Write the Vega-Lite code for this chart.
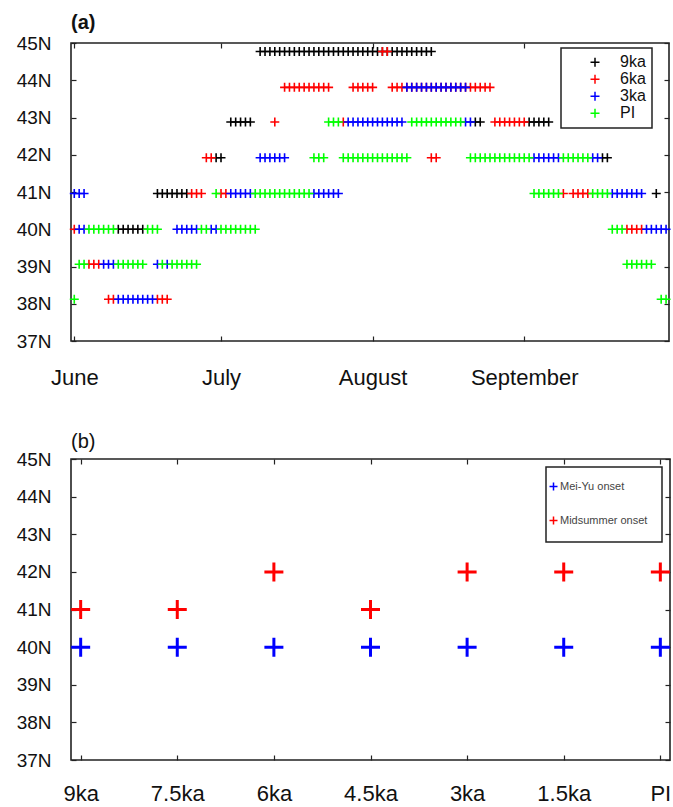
{
  "$schema": "https://vega.github.io/schema/vega-lite/v6.json",
  "background": "white",
  "padding": {"left": 15, "top": 12, "right": 4, "bottom": 4},
  "bounds": "flush",
  "spacing": 118,
  "config": {
    "font": "Liberation Sans",
    "view": {"stroke": "#222", "strokeWidth": 1.6},
    "legend": {"strokeWidth": 1.5},
    "axis": {
      "labelFont": "Liberation Sans",
      "labelFontSize": 19,
      "labelColor": "#111",
      "domain": false,
      "grid": false,
      "tickColor": "#222",
      "tickSize": -5,
      "tickWidth": 1.2,
      "labelOverlap": false,
      "labelFlush": false
    }
  },
  "datasets": {
    "belt": [
      {"day":39,"lat":44.77,"run":"9ka"},{"day":40,"lat":44.77,"run":"9ka"},{"day":41,"lat":44.77,"run":"9ka"},{"day":42,"lat":44.77,"run":"9ka"},{"day":43,"lat":44.77,"run":"9ka"},{"day":44,"lat":44.77,"run":"9ka"},
      {"day":45,"lat":44.77,"run":"9ka"},{"day":46,"lat":44.77,"run":"9ka"},{"day":47,"lat":44.77,"run":"9ka"},{"day":48,"lat":44.77,"run":"9ka"},{"day":49,"lat":44.77,"run":"9ka"},{"day":50,"lat":44.77,"run":"9ka"},
      {"day":51,"lat":44.77,"run":"9ka"},{"day":52,"lat":44.77,"run":"9ka"},{"day":53,"lat":44.77,"run":"9ka"},{"day":54,"lat":44.77,"run":"9ka"},{"day":55,"lat":44.77,"run":"9ka"},{"day":56,"lat":44.77,"run":"9ka"},
      {"day":57,"lat":44.77,"run":"9ka"},{"day":58,"lat":44.77,"run":"9ka"},{"day":59,"lat":44.77,"run":"9ka"},{"day":60,"lat":44.77,"run":"9ka"},{"day":61,"lat":44.77,"run":"9ka"},{"day":62,"lat":44.77,"run":"9ka"},
      {"day":63,"lat":44.77,"run":"9ka"},{"day":64,"lat":44.77,"run":"9ka"},{"day":65,"lat":44.77,"run":"9ka"},{"day":66,"lat":44.77,"run":"9ka"},{"day":67,"lat":44.77,"run":"9ka"},{"day":68,"lat":44.77,"run":"9ka"},
      {"day":69,"lat":44.77,"run":"9ka"},{"day":70,"lat":44.77,"run":"9ka"},{"day":71,"lat":44.77,"run":"9ka"},{"day":72,"lat":44.77,"run":"9ka"},{"day":73,"lat":44.77,"run":"9ka"},{"day":74,"lat":44.77,"run":"9ka"},
      {"day":33,"lat":42.88,"run":"9ka"},{"day":34,"lat":42.88,"run":"9ka"},{"day":35,"lat":42.88,"run":"9ka"},{"day":36,"lat":42.88,"run":"9ka"},{"day":37,"lat":42.88,"run":"9ka"},
      {"day":83,"lat":42.88,"run":"9ka"},{"day":84,"lat":42.88,"run":"9ka"},
      {"day":94,"lat":42.88,"run":"9ka"},{"day":95,"lat":42.88,"run":"9ka"},{"day":96,"lat":42.88,"run":"9ka"},{"day":97,"lat":42.88,"run":"9ka"},{"day":98,"lat":42.88,"run":"9ka"},
      {"day":30,"lat":41.92,"run":"9ka"},{"day":31,"lat":41.92,"run":"9ka"},{"day":109,"lat":41.92,"run":"9ka"},{"day":110,"lat":41.92,"run":"9ka"},
      {"day":18,"lat":40.96,"run":"9ka"},{"day":19,"lat":40.96,"run":"9ka"},{"day":20,"lat":40.96,"run":"9ka"},{"day":21,"lat":40.96,"run":"9ka"},{"day":22,"lat":40.96,"run":"9ka"},{"day":23,"lat":40.96,"run":"9ka"},{"day":24,"lat":40.96,"run":"9ka"},
      {"day":120,"lat":40.96,"run":"9ka"},
      {"day":10,"lat":40.0,"run":"9ka"},{"day":11,"lat":40.0,"run":"9ka"},{"day":12,"lat":40.0,"run":"9ka"},{"day":13,"lat":40.0,"run":"9ka"},{"day":14,"lat":40.0,"run":"9ka"},{"day":15,"lat":40.0,"run":"9ka"},

      {"day":64,"lat":44.77,"run":"6ka"},{"day":65,"lat":44.77,"run":"6ka"},
      {"day":44,"lat":43.81,"run":"6ka"},{"day":45,"lat":43.81,"run":"6ka"},{"day":46,"lat":43.81,"run":"6ka"},{"day":47,"lat":43.81,"run":"6ka"},{"day":48,"lat":43.81,"run":"6ka"},
      {"day":49,"lat":43.81,"run":"6ka"},{"day":50,"lat":43.81,"run":"6ka"},{"day":51,"lat":43.81,"run":"6ka"},{"day":52,"lat":43.81,"run":"6ka"},{"day":53,"lat":43.81,"run":"6ka"},
      {"day":58,"lat":43.81,"run":"6ka"},{"day":59,"lat":43.81,"run":"6ka"},{"day":60,"lat":43.81,"run":"6ka"},{"day":61,"lat":43.81,"run":"6ka"},{"day":62,"lat":43.81,"run":"6ka"},
      {"day":66,"lat":43.81,"run":"6ka"},{"day":67,"lat":43.81,"run":"6ka"},{"day":68,"lat":43.81,"run":"6ka"},{"day":69,"lat":43.81,"run":"6ka"},{"day":70,"lat":43.81,"run":"6ka"},
      {"day":71,"lat":43.81,"run":"6ka"},{"day":72,"lat":43.81,"run":"6ka"},{"day":73,"lat":43.81,"run":"6ka"},{"day":74,"lat":43.81,"run":"6ka"},{"day":75,"lat":43.81,"run":"6ka"},
      {"day":76,"lat":43.81,"run":"6ka"},{"day":77,"lat":43.81,"run":"6ka"},{"day":78,"lat":43.81,"run":"6ka"},{"day":79,"lat":43.81,"run":"6ka"},{"day":80,"lat":43.81,"run":"6ka"},
      {"day":81,"lat":43.81,"run":"6ka"},{"day":82,"lat":43.81,"run":"6ka"},{"day":83,"lat":43.81,"run":"6ka"},{"day":84,"lat":43.81,"run":"6ka"},{"day":85,"lat":43.81,"run":"6ka"},{"day":86,"lat":43.81,"run":"6ka"},
      {"day":42,"lat":42.88,"run":"6ka"},{"day":56,"lat":42.88,"run":"6ka"},
      {"day":87,"lat":42.88,"run":"6ka"},{"day":88,"lat":42.88,"run":"6ka"},{"day":89,"lat":42.88,"run":"6ka"},{"day":90,"lat":42.88,"run":"6ka"},{"day":91,"lat":42.88,"run":"6ka"},{"day":92,"lat":42.88,"run":"6ka"},{"day":93,"lat":42.88,"run":"6ka"},
      {"day":28,"lat":41.92,"run":"6ka"},{"day":29,"lat":41.92,"run":"6ka"},{"day":74,"lat":41.92,"run":"6ka"},{"day":75,"lat":41.92,"run":"6ka"},
      {"day":25,"lat":40.96,"run":"6ka"},{"day":26,"lat":40.96,"run":"6ka"},{"day":27,"lat":40.96,"run":"6ka"},{"day":31,"lat":40.96,"run":"6ka"},{"day":32,"lat":40.96,"run":"6ka"},
      {"day":101,"lat":40.96,"run":"6ka"},{"day":103,"lat":40.96,"run":"6ka"},{"day":104,"lat":40.96,"run":"6ka"},{"day":105,"lat":40.96,"run":"6ka"},{"day":106,"lat":40.96,"run":"6ka"},
      {"day":1,"lat":40.0,"run":"6ka"},{"day":114,"lat":40.0,"run":"6ka"},{"day":115,"lat":40.0,"run":"6ka"},{"day":116,"lat":40.0,"run":"6ka"},{"day":117,"lat":40.0,"run":"6ka"},
      {"day":4,"lat":39.06,"run":"6ka"},{"day":5,"lat":39.06,"run":"6ka"},{"day":6,"lat":39.06,"run":"6ka"},
      {"day":8,"lat":38.12,"run":"6ka"},{"day":9,"lat":38.12,"run":"6ka"},{"day":18,"lat":38.12,"run":"6ka"},{"day":19,"lat":38.12,"run":"6ka"},{"day":20,"lat":38.12,"run":"6ka"},

      {"day":69,"lat":43.81,"run":"3ka"},{"day":70,"lat":43.81,"run":"3ka"},{"day":71,"lat":43.81,"run":"3ka"},{"day":72,"lat":43.81,"run":"3ka"},{"day":73,"lat":43.81,"run":"3ka"},
      {"day":74,"lat":43.81,"run":"3ka"},{"day":75,"lat":43.81,"run":"3ka"},{"day":76,"lat":43.81,"run":"3ka"},{"day":77,"lat":43.81,"run":"3ka"},{"day":78,"lat":43.81,"run":"3ka"},
      {"day":79,"lat":43.81,"run":"3ka"},{"day":80,"lat":43.81,"run":"3ka"},{"day":81,"lat":43.81,"run":"3ka"},
      {"day":57,"lat":42.88,"run":"3ka"},{"day":58,"lat":42.88,"run":"3ka"},{"day":59,"lat":42.88,"run":"3ka"},{"day":60,"lat":42.88,"run":"3ka"},{"day":61,"lat":42.88,"run":"3ka"},{"day":62,"lat":42.88,"run":"3ka"},
      {"day":63,"lat":42.88,"run":"3ka"},{"day":64,"lat":42.88,"run":"3ka"},{"day":65,"lat":42.88,"run":"3ka"},{"day":66,"lat":42.88,"run":"3ka"},{"day":67,"lat":42.88,"run":"3ka"},{"day":68,"lat":42.88,"run":"3ka"},
      {"day":81,"lat":42.88,"run":"3ka"},{"day":82,"lat":42.88,"run":"3ka"},
      {"day":39,"lat":41.92,"run":"3ka"},{"day":40,"lat":41.92,"run":"3ka"},{"day":41,"lat":41.92,"run":"3ka"},{"day":42,"lat":41.92,"run":"3ka"},{"day":43,"lat":41.92,"run":"3ka"},{"day":44,"lat":41.92,"run":"3ka"},
      {"day":95,"lat":41.92,"run":"3ka"},{"day":96,"lat":41.92,"run":"3ka"},{"day":97,"lat":41.92,"run":"3ka"},{"day":98,"lat":41.92,"run":"3ka"},{"day":99,"lat":41.92,"run":"3ka"},{"day":100,"lat":41.92,"run":"3ka"},
      {"day":107,"lat":41.92,"run":"3ka"},{"day":108,"lat":41.92,"run":"3ka"},
      {"day":1,"lat":40.96,"run":"3ka"},{"day":2,"lat":40.96,"run":"3ka"},{"day":3,"lat":40.96,"run":"3ka"},
      {"day":33,"lat":40.96,"run":"3ka"},{"day":34,"lat":40.96,"run":"3ka"},{"day":35,"lat":40.96,"run":"3ka"},{"day":36,"lat":40.96,"run":"3ka"},{"day":37,"lat":40.96,"run":"3ka"},
      {"day":50,"lat":40.96,"run":"3ka"},{"day":51,"lat":40.96,"run":"3ka"},{"day":52,"lat":40.96,"run":"3ka"},{"day":53,"lat":40.96,"run":"3ka"},{"day":54,"lat":40.96,"run":"3ka"},{"day":55,"lat":40.96,"run":"3ka"},
      {"day":111,"lat":40.96,"run":"3ka"},{"day":112,"lat":40.96,"run":"3ka"},{"day":113,"lat":40.96,"run":"3ka"},{"day":114,"lat":40.96,"run":"3ka"},{"day":115,"lat":40.96,"run":"3ka"},{"day":116,"lat":40.96,"run":"3ka"},{"day":117,"lat":40.96,"run":"3ka"},
      {"day":2,"lat":40.0,"run":"3ka"},{"day":3,"lat":40.0,"run":"3ka"},
      {"day":22,"lat":40.0,"run":"3ka"},{"day":23,"lat":40.0,"run":"3ka"},{"day":24,"lat":40.0,"run":"3ka"},{"day":25,"lat":40.0,"run":"3ka"},{"day":26,"lat":40.0,"run":"3ka"},
      {"day":29,"lat":40.0,"run":"3ka"},{"day":30,"lat":40.0,"run":"3ka"},
      {"day":118,"lat":40.0,"run":"3ka"},{"day":119,"lat":40.0,"run":"3ka"},{"day":120,"lat":40.0,"run":"3ka"},{"day":121,"lat":40.0,"run":"3ka"},{"day":122,"lat":40.0,"run":"3ka"},
      {"day":7,"lat":39.06,"run":"3ka"},{"day":8,"lat":39.06,"run":"3ka"},{"day":9,"lat":39.06,"run":"3ka"},{"day":18,"lat":39.06,"run":"3ka"},{"day":20,"lat":39.06,"run":"3ka"},
      {"day":10,"lat":38.12,"run":"3ka"},{"day":11,"lat":38.12,"run":"3ka"},{"day":12,"lat":38.12,"run":"3ka"},{"day":13,"lat":38.12,"run":"3ka"},
      {"day":14,"lat":38.12,"run":"3ka"},{"day":15,"lat":38.12,"run":"3ka"},{"day":16,"lat":38.12,"run":"3ka"},{"day":17,"lat":38.12,"run":"3ka"},

      {"day":53,"lat":42.88,"run":"PI"},{"day":54,"lat":42.88,"run":"PI"},{"day":55,"lat":42.88,"run":"PI"},
      {"day":70,"lat":42.88,"run":"PI"},{"day":71,"lat":42.88,"run":"PI"},{"day":72,"lat":42.88,"run":"PI"},{"day":73,"lat":42.88,"run":"PI"},{"day":74,"lat":42.88,"run":"PI"},{"day":75,"lat":42.88,"run":"PI"},
      {"day":76,"lat":42.88,"run":"PI"},{"day":77,"lat":42.88,"run":"PI"},{"day":78,"lat":42.88,"run":"PI"},{"day":79,"lat":42.88,"run":"PI"},{"day":80,"lat":42.88,"run":"PI"},
      {"day":50,"lat":41.92,"run":"PI"},{"day":51,"lat":41.92,"run":"PI"},{"day":52,"lat":41.92,"run":"PI"},
      {"day":56,"lat":41.92,"run":"PI"},{"day":57,"lat":41.92,"run":"PI"},{"day":58,"lat":41.92,"run":"PI"},{"day":59,"lat":41.92,"run":"PI"},{"day":60,"lat":41.92,"run":"PI"},{"day":61,"lat":41.92,"run":"PI"},{"day":62,"lat":41.92,"run":"PI"},
      {"day":63,"lat":41.92,"run":"PI"},{"day":64,"lat":41.92,"run":"PI"},{"day":65,"lat":41.92,"run":"PI"},{"day":66,"lat":41.92,"run":"PI"},{"day":67,"lat":41.92,"run":"PI"},{"day":68,"lat":41.92,"run":"PI"},{"day":69,"lat":41.92,"run":"PI"},
      {"day":82,"lat":41.92,"run":"PI"},{"day":83,"lat":41.92,"run":"PI"},{"day":84,"lat":41.92,"run":"PI"},{"day":85,"lat":41.92,"run":"PI"},{"day":86,"lat":41.92,"run":"PI"},{"day":87,"lat":41.92,"run":"PI"},{"day":88,"lat":41.92,"run":"PI"},
      {"day":89,"lat":41.92,"run":"PI"},{"day":90,"lat":41.92,"run":"PI"},{"day":91,"lat":41.92,"run":"PI"},{"day":92,"lat":41.92,"run":"PI"},{"day":93,"lat":41.92,"run":"PI"},{"day":94,"lat":41.92,"run":"PI"},
      {"day":101,"lat":41.92,"run":"PI"},{"day":102,"lat":41.92,"run":"PI"},{"day":103,"lat":41.92,"run":"PI"},{"day":104,"lat":41.92,"run":"PI"},{"day":105,"lat":41.92,"run":"PI"},{"day":106,"lat":41.92,"run":"PI"},
      {"day":30,"lat":40.96,"run":"PI"},
      {"day":38,"lat":40.96,"run":"PI"},{"day":39,"lat":40.96,"run":"PI"},{"day":40,"lat":40.96,"run":"PI"},{"day":41,"lat":40.96,"run":"PI"},{"day":42,"lat":40.96,"run":"PI"},{"day":43,"lat":40.96,"run":"PI"},
      {"day":44,"lat":40.96,"run":"PI"},{"day":45,"lat":40.96,"run":"PI"},{"day":46,"lat":40.96,"run":"PI"},{"day":47,"lat":40.96,"run":"PI"},{"day":48,"lat":40.96,"run":"PI"},{"day":49,"lat":40.96,"run":"PI"},
      {"day":95,"lat":40.96,"run":"PI"},{"day":96,"lat":40.96,"run":"PI"},{"day":97,"lat":40.96,"run":"PI"},{"day":98,"lat":40.96,"run":"PI"},{"day":99,"lat":40.96,"run":"PI"},{"day":100,"lat":40.96,"run":"PI"},
      {"day":107,"lat":40.96,"run":"PI"},{"day":108,"lat":40.96,"run":"PI"},{"day":109,"lat":40.96,"run":"PI"},{"day":110,"lat":40.96,"run":"PI"},
      {"day":4,"lat":40.0,"run":"PI"},{"day":5,"lat":40.0,"run":"PI"},{"day":6,"lat":40.0,"run":"PI"},{"day":7,"lat":40.0,"run":"PI"},{"day":8,"lat":40.0,"run":"PI"},{"day":9,"lat":40.0,"run":"PI"},
      {"day":16,"lat":40.0,"run":"PI"},{"day":17,"lat":40.0,"run":"PI"},{"day":18,"lat":40.0,"run":"PI"},
      {"day":27,"lat":40.0,"run":"PI"},{"day":28,"lat":40.0,"run":"PI"},
      {"day":31,"lat":40.0,"run":"PI"},{"day":32,"lat":40.0,"run":"PI"},{"day":33,"lat":40.0,"run":"PI"},{"day":34,"lat":40.0,"run":"PI"},
      {"day":35,"lat":40.0,"run":"PI"},{"day":36,"lat":40.0,"run":"PI"},{"day":37,"lat":40.0,"run":"PI"},{"day":38,"lat":40.0,"run":"PI"},
      {"day":111,"lat":40.0,"run":"PI"},{"day":112,"lat":40.0,"run":"PI"},{"day":113,"lat":40.0,"run":"PI"},
      {"day":2,"lat":39.06,"run":"PI"},{"day":3,"lat":39.06,"run":"PI"},
      {"day":10,"lat":39.06,"run":"PI"},{"day":11,"lat":39.06,"run":"PI"},{"day":12,"lat":39.06,"run":"PI"},{"day":13,"lat":39.06,"run":"PI"},{"day":14,"lat":39.06,"run":"PI"},{"day":15,"lat":39.06,"run":"PI"},
      {"day":19,"lat":39.06,"run":"PI"},
      {"day":21,"lat":39.06,"run":"PI"},{"day":22,"lat":39.06,"run":"PI"},{"day":23,"lat":39.06,"run":"PI"},{"day":24,"lat":39.06,"run":"PI"},{"day":25,"lat":39.06,"run":"PI"},{"day":26,"lat":39.06,"run":"PI"},
      {"day":114,"lat":39.06,"run":"PI"},{"day":115,"lat":39.06,"run":"PI"},{"day":116,"lat":39.06,"run":"PI"},{"day":117,"lat":39.06,"run":"PI"},{"day":118,"lat":39.06,"run":"PI"},{"day":119,"lat":39.06,"run":"PI"},
      {"day":1,"lat":38.12,"run":"PI"},{"day":121,"lat":38.12,"run":"PI"},{"day":122,"lat":38.12,"run":"PI"}
    ],
    "onset": [
      {"period":"9ka","event":"Mei-Yu onset","lat":40},
      {"period":"7.5ka","event":"Mei-Yu onset","lat":40},
      {"period":"6ka","event":"Mei-Yu onset","lat":40},
      {"period":"4.5ka","event":"Mei-Yu onset","lat":40},
      {"period":"3ka","event":"Mei-Yu onset","lat":40},
      {"period":"1.5ka","event":"Mei-Yu onset","lat":40},
      {"period":"PI","event":"Mei-Yu onset","lat":40},
      {"period":"9ka","event":"Midsummer onset","lat":41},
      {"period":"7.5ka","event":"Midsummer onset","lat":41},
      {"period":"6ka","event":"Midsummer onset","lat":42},
      {"period":"4.5ka","event":"Midsummer onset","lat":41},
      {"period":"3ka","event":"Midsummer onset","lat":42},
      {"period":"1.5ka","event":"Midsummer onset","lat":42},
      {"period":"PI","event":"Midsummer onset","lat":42}
    ]
  },
  "vconcat": [
    {
      "width": 598,
      "height": 298,
      "title": {"text": "(a)", "anchor": "start", "frame": "group", "fontSize": 20, "fontWeight": "bold", "baseline": "alphabetic", "offset": -15, "font": "Liberation Sans", "color": "#111"},
      "data": {"name": "belt"},
      "layer": [
        {
          "mark": {"type": "point", "shape": "M-1,0L1,0M0,-1L0,1", "filled": false, "size": 81, "strokeWidth": 1.6, "opacity": 1},
          "encoding": {
            "x": {
              "field": "day", "type": "quantitative",
              "scale": {"domain": [0.33, 122.6], "nice": false, "zero": false},
              "axis": {
                "title": null,
                "values": [1, 31, 62, 93],
                "labelExpr": "datum.value == 1 ? 'June' : datum.value == 31 ? 'July' : datum.value == 62 ? 'August' : 'September'",
                "labelFontSize": 22,
                "labelPadding": 31
              }
            },
            "y": {
              "field": "lat", "type": "quantitative",
              "scale": {"domain": [37, 45], "nice": false, "zero": false},
              "axis": {"title": null, "values": [37, 38, 39, 40, 41, 42, 43, 44, 45], "labelExpr": "datum.value + 'N'", "labelPadding": 25}
            },
            "color": {
              "field": "run", "type": "nominal",
              "scale": {"domain": ["9ka", "6ka", "3ka", "PI"], "range": ["#000000", "#ff0000", "#0000ff", "#00ff00"]},
              "legend": {
                "orient": "none", "legendX": 490, "legendY": 5, "title": null,
                "strokeColor": "#222", "fillColor": "white",
                "padding": 6, "symbolOffset": 20,
                "symbolType": "M-1,0L1,0M0,-1L0,1", "symbolSize": 81, "symbolStrokeWidth": 1.5,
                "labelFont": "Liberation Sans", "labelFontSize": 16, "labelColor": "#111", "labelOffset": 17,
                "rowPadding": 0, "clipHeight": 16.5
              }
            }
          }
        },
        {
          "mark": {"type": "point", "opacity": 0},
          "encoding": {
            "x": {"field": "day", "type": "quantitative", "axis": {"orient": "top", "labels": false, "title": null, "values": [1, 31, 62, 93]}},
            "y": {"field": "lat", "type": "quantitative", "axis": {"orient": "right", "labels": false, "title": null, "values": [37, 38, 39, 40, 41, 42, 43, 44, 45]}}
          }
        }
      ],
      "resolve": {"axis": {"x": "independent", "y": "independent"}}
    },
    {
      "width": 599,
      "height": 301,
      "title": {"text": "(b)", "anchor": "start", "frame": "group", "fontSize": 20, "fontWeight": "normal", "baseline": "alphabetic", "offset": -18, "font": "Liberation Sans", "color": "#111"},
      "data": {"name": "onset"},
      "layer": [
        {
          "mark": {"type": "point", "shape": "M-1,0L1,0M0,-1L0,1", "filled": false, "size": 361, "strokeWidth": 3, "opacity": 1},
          "encoding": {
            "x": {
              "field": "period", "type": "ordinal",
              "sort": ["9ka", "7.5ka", "6ka", "4.5ka", "3ka", "1.5ka", "PI"],
              "scale": {"type": "point", "padding": 0.1},
              "axis": {"title": null, "labelAngle": 0, "labelFontSize": 22, "labelPadding": 28}
            },
            "y": {
              "field": "lat", "type": "quantitative",
              "scale": {"domain": [37, 45], "nice": false, "zero": false},
              "axis": {"title": null, "values": [37, 38, 39, 40, 41, 42, 43, 44, 45], "labelExpr": "datum.value + 'N'", "labelPadding": 25}
            },
            "color": {
              "field": "event", "type": "nominal",
              "scale": {"domain": ["Mei-Yu onset", "Midsummer onset"], "range": ["#0000ff", "#ff0000"]},
              "legend": {
                "orient": "none", "legendX": 475, "legendY": 8, "title": null,
                "strokeColor": "#222", "fillColor": "white",
                "padding": 14, "symbolOffset": -12,
                "symbolType": "M-1,0L1,0M0,-1L0,1", "symbolSize": 64, "symbolStrokeWidth": 1.5,
                "labelFont": "Liberation Sans", "labelFontSize": 11, "labelColor": "#444", "labelOffset": 1, "rowPadding": 19, "labelLimit": 200
              }
            }
          }
        },
        {
          "mark": {"type": "point", "opacity": 0},
          "encoding": {
            "x": {"field": "period", "type": "ordinal", "sort": ["9ka", "7.5ka", "6ka", "4.5ka", "3ka", "1.5ka", "PI"], "axis": {"orient": "top", "labels": false, "title": null}},
            "y": {"field": "lat", "type": "quantitative", "axis": {"orient": "right", "labels": false, "title": null, "values": [37, 38, 39, 40, 41, 42, 43, 44, 45]}}
          }
        }
      ],
      "resolve": {"axis": {"x": "independent", "y": "independent"}}
    }
  ],
  "resolve": {"scale": {"color": "independent"}, "legend": {"color": "independent"}}
}
